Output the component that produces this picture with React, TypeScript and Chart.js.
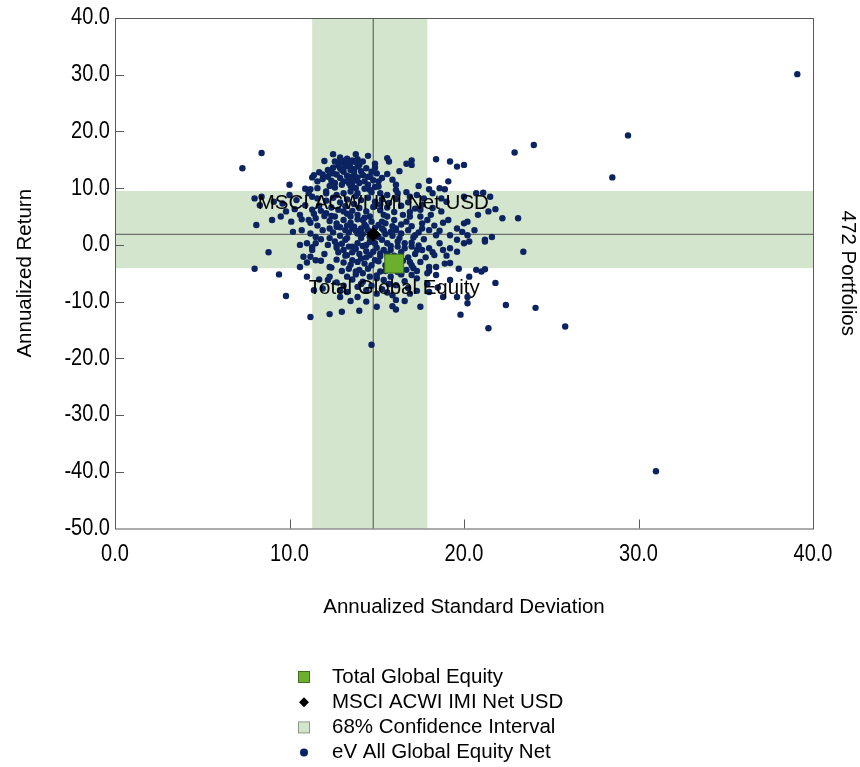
import React, { useEffect, useRef } from 'react';
import { Chart, registerables } from 'chart.js';

Chart.register(...registerables);

// ---------- data ----------
const X_RANGE = [0, 40];
const Y_RANGE = [-50, 40];
const TICK_STEP = 10;

const X_TITLE = 'Annualized Standard Deviation';
const Y_TITLE = 'Annualized Return';
const RIGHT_TITLE = '472 Portfolios';

const FUND_NAME = 'Total Global Equity';
const BENCH_NAME = 'MSCI ACWI IMI Net USD';
const CI_NAME = '68% Confidence Interval';
const PEER_NAME = 'eV All Global Equity Net';

// [std dev, return]
const totalGlobalEquity = [16.0, -3.3];
const benchmark = [14.8, 1.85];
const ciStdDev = [11.3, 17.9];
const ciReturn = [-4.1, 9.5];

const peerUniverse: [number, number][] = [
  [8.4,16.2],[7.3,13.5],[12.5,16.0],[12.9,15.4],[13.8,16.0],[14.5,15.7],[15.6,15.3],[15.7,14.7],[14.9,14.3],[16.7,14.3],
  [17.0,14.9],[17.0,14.1],[18.4,15.1],[19.2,14.7],[19.6,13.8],[20.0,14.1],[22.9,16.3],[24.0,17.6],[12.6,14.7],[13.1,14.5],
  [13.4,14.1],[13.6,14.9],[13.9,15.1],[13.9,13.8],[13.5,13.2],[12.9,13.5],[12.5,12.6],[12.2,12.0],[11.4,12.3],[11.7,12.8],
  [11.9,11.6],[11.3,11.9],[14.2,12.3],[14.6,12.0],[14.3,11.2],[13.8,11.4],[13.6,12.0],[13.1,11.2],[12.6,10.9],[12.3,10.4],
  [13.4,10.9],[13.6,10.3],[15.1,11.2],[15.1,10.3],[16.1,10.6],[16.1,9.7],[18.0,11.3],[18.6,10.0],[19.1,11.2],[18.9,9.8],
  [18.0,9.8],[10.0,10.6],[11.2,9.8],[11.6,11.2],
  [8.4,8.5],[8.0,8.2],[8.3,7.0],[9.1,7.6],[9.6,7.3],[10.4,7.9],[11.1,9.1],[11.3,8.5],[11.6,8.2],[12.1,9.1],
  [12.7,8.8],[13.1,9.1],[13.5,9.4],[13.9,9.1],[14.6,9.7],[15.2,9.1],[15.6,8.8],[16.2,9.1],[16.9,8.5],[17.3,8.8],
  [17.7,8.2],[18.2,9.1],[18.7,8.2],[19.0,7.6],[20.0,8.5],[20.7,9.1],[21.1,9.2],[21.5,8.5],[21.8,6.3],[22.2,4.7],[23.1,4.7],
  [8.1,3.5],[9.0,4.4],[9.5,5.0],[10.1,4.1],[10.6,5.3],[11.1,4.4],[11.5,4.7],[12.1,5.6],[12.6,5.0],[13.1,5.9],
  [13.5,5.0],[13.9,5.3],[14.2,4.4],[14.6,5.0],[15.3,4.1],[15.6,5.0],[16.0,4.4],[16.5,5.3],[16.9,5.0],[17.5,5.0],
  [17.9,4.4],[18.1,5.3],[19.1,4.4],[20.0,3.8],[20.2,4.1],[20.8,5.3],[21.4,5.9],
  [10.2,2.3],[10.7,2.6],[11.2,2.0],[11.5,1.4],[11.9,2.6],[12.3,2.9],[12.7,3.2],[13.2,2.6],[13.6,2.9],[14.1,2.6],
  [14.4,3.2],[15.4,2.6],[15.8,2.3],[16.1,2.9],[16.4,2.0],[16.8,2.6],[17.2,1.7],[17.6,2.9],[18.0,2.6],[18.6,2.5],
  [19.2,1.7],[19.6,2.9],[19.9,2.3],[20.2,1.7],[20.6,2.6],[21.2,0.9],[21.6,1.4],
  [8.8,-1.3],[8.0,-4.2],[9.4,-5.2],[10.6,0.0],[10.8,-2.1],[11.3,-0.9],[11.0,0.3],[11.5,0.3],[12.2,0.0],[12.7,0.0],
  [12.3,1.2],[13.2,0.9],[13.1,-0.9],[13.6,-0.3],[13.9,0.3],[14.1,1.2],[14.4,0.0],[14.9,0.3],[15.3,0.9],[15.6,0.3],
  [15.8,-0.9],[16.2,-0.3],[16.6,0.3],[17.0,-0.3],[17.3,-0.9],[17.6,-0.9],[18.0,-0.6],[18.3,-1.8],[18.8,-0.9],[19.2,-0.6],
  [19.6,0.9],[20.0,0.3],[20.3,0.6],[21.2,0.6],[23.4,-1.2],
  [10.6,-3.9],[11.2,-2.1],[11.5,-2.7],[12.3,-3.9],[13.3,-1.8],[13.6,-2.7],[14.1,-2.4],[14.6,-1.8],[14.9,-2.7],[15.2,-1.5],
  [17.0,-3.6],[17.5,-3.0],[18.0,-3.9],[18.4,-3.9],[18.9,-3.3],[19.2,-3.2],[19.7,-4.2],[20.7,-4.4],[21.2,-4.3],
  [13.3,-5.6],[13.8,-4.7],[14.2,-5.0],[14.6,-5.6],[15.2,-4.7],[15.0,-5.9],[16.4,-5.0],[17.0,-5.3],[17.9,-5.0],[18.4,-5.3],
  [19.2,-6.2],[20.3,-5.6],[21.0,-4.7],[21.8,-6.7],
  [9.8,-9.0],[11.4,-8.0],[11.9,-7.7],[12.9,-9.2],[13.3,-8.3],[13.9,-9.2],[14.4,-10.0],[15.0,-8.6],[15.9,-8.9],[16.1,-9.7],
  [16.9,-8.6],[17.5,-10.9],[18.0,-8.3],[18.8,-9.2],[19.6,-9.2],[20.2,-9.2],[20.2,-10.3],[22.4,-10.6],[24.1,-11.1],
  [11.2,-12.7],[12.3,-12.2],[13.0,-11.8],[14.0,-11.6],[15.0,-10.9],[15.9,-10.8],[16.1,-11.4],[19.8,-12.3],[21.4,-14.7],[14.7,-17.6],
  [29.4,19.3],[28.5,11.9],[25.8,-14.4],[31.0,-39.9],[39.1,30.1],
  [12.8,14.0],[13.2,13.8],[13.5,14.4],[13.8,14.6],[14.0,14.1],[13.6,13.4],[13.1,12.9],[12.7,12.4],[13.3,12.2],[13.7,12.6],
  [14.1,13.0],[14.4,13.5],[14.2,12.3],[13.9,11.9],[13.4,11.6],[12.9,11.8],[12.4,11.3],[13.0,10.6],[13.5,10.4],[14.0,10.9],
  [14.5,10.6],[14.8,11.4],[15.0,12.6],[14.7,12.9],[12.2,13.2],[11.9,12.4],[12.6,10.1],[13.8,10.0],[14.3,9.9],[13.2,14.9],
  [12.5,13.6],[14.9,13.6],[15.3,11.8],[15.6,12.5],
  [12.1,7.8],[12.5,8.3],[12.9,7.5],[13.3,8.0],[13.7,7.2],[14.1,7.9],[14.5,8.3],[14.9,7.6],[15.3,8.0],[15.7,7.4],
  [16.1,8.1],[12.4,6.6],[12.8,6.2],[13.2,6.8],[13.6,6.0],[14.0,6.5],[14.4,5.9],[14.8,6.7],[15.2,6.1],[15.6,6.6],
  [16.0,5.8],[16.4,6.9],[11.7,6.9],[11.3,6.2],[10.9,7.0],[16.8,7.5],[17.2,6.4],[17.6,7.1],[10.3,6.3],[9.8,5.9],
  [12.3,4.2],[12.7,3.8],[13.1,4.4],[13.5,3.9],[13.9,4.5],[14.3,3.6],[14.7,4.1],[15.1,3.5],[15.5,3.8],[15.9,3.3],
  [12.9,3.1],[13.3,3.4],[13.7,3.2],[14.1,2.9],[14.5,2.6],[14.9,3.0],[15.3,2.9],[13.4,2.2],[13.8,2.5],[14.2,1.9],
  [12.5,2.2],[12.9,1.6],[15.1,1.4],[15.5,1.9],[15.9,1.6],[16.4,3.6],[16.7,4.1],[17.0,3.3],[11.6,3.4],[11.2,3.9],
  [10.7,4.5],[16.3,1.2],[17.1,1.3],[17.6,3.8],[18.3,3.4],[18.8,3.9],
  [12.6,0.6],[13.0,0.2],[13.4,-0.3],[13.8,-0.7],[14.2,-0.2],[14.6,0.5],[15.0,-0.5],[15.4,-0.9],[15.8,-0.2],[16.2,0.6],
  [16.6,-0.6],[17.0,0.4],[12.8,-1.3],[13.2,-1.9],[13.6,-1.3],[14.0,-1.6],[14.4,-1.1],[14.8,-1.2],[15.2,-2.0],[15.6,-1.6],
  [16.0,-1.9],[16.4,-1.3],[16.8,-2.2],[17.2,-1.6],[12.7,-2.6],[13.1,-3.1],[13.5,-3.5],[13.9,-3.0],[14.3,-3.3],[14.7,-3.6],
  [15.1,-2.9],[15.5,-3.6],[16.5,-2.8],[16.9,-3.0],[17.8,-2.2],[18.2,-1.3],[12.0,-1.6],[11.8,-2.8],[11.0,-3.1],[18.6,0.3],
  [13.0,-4.6],[13.4,-4.2],[14.0,-4.4],[14.5,-4.2],[15.5,-4.6],[15.9,-4.3],[16.2,-4.8],[16.7,-4.4],[17.3,-4.6],[13.6,-6.1],
  [14.2,-6.5],[15.4,-6.2],[15.8,-5.6],[16.6,-6.4],[17.3,-5.9],[12.7,-6.6],[13.1,-7.2],[13.9,-7.4],[14.7,-7.2],[15.3,-7.8],
  [16.1,-7.1],[16.8,-7.6],[17.9,-6.9],[12.3,-5.6],[11.7,-6.1],[18.5,-7.5],
  [11.4,5.5],[11.8,1.0],[11.3,-0.4],[12.0,5.1],[16.9,5.8],[17.5,6.2],[18.2,6.5],[18.7,5.9],[17.7,1.0],[18.4,1.7],
  [17.4,-0.1],[19.0,-1.9],[19.6,-1.2],[17.1,-4.1],[18.0,-4.6],
  [13.3,15.2],[13.9,14.9],[12.9,14.6],[14.2,14.7],[13.0,13.2],[13.7,13.1],[14.5,12.0],[12.3,12.8],[13.6,11.0],[14.9,10.2],
  [12.1,9.4],[13.8,8.6],[14.7,9.3],[13.3,5.5],[14.3,4.8],[15.4,5.3],[12.4,5.1],[13.9,2.0],[14.6,1.4],[13.3,1.2],
  [12.7,-0.5],[14.4,-2.2],[15.7,-3.0],[13.8,-5.2],[15.0,-5.4],[16.4,-5.2],[12.9,-8.0],[14.4,-8.0],[15.6,-8.4],[16.3,-2.3],
  [16.1,2.6],[17.4,2.2],[15.2,7.1],[16.7,9.3],[11.6,10.0],[12.0,14.8],
  [12.4,-4.0],[14.1,-6.9],[15.7,-6.9],[13.5,-9.9],[16.6,-9.9],[17.3,-8.1],[12.2,-6.2],[11.0,-5.6],[11.8,6.0],[10.0,8.8],
  [10.9,9.9],[17.4,10.4],[16.3,13.0],[15.9,11.5],
];

// ---------- styles ----------
const FONT = "'Liberation Sans', Arial, sans-serif";
const NAVY = '#0b2361';
const GREEN = '#6ab02c';
const GREEN_EDGE = '#3f6e1c';
const BAND = '#d4e5cd';
const BAND_EDGE = '#8a9a86';
const LINE_GRAY = '#6f6f6f';
const AXIS_GRAY = '#5a5a5a';
const TICK_SIZE = 23;
const TICK_SQUEEZE = 0.87;

const fmt = (v: number) => (Math.abs(v) < 1e-9 ? 0 : v).toFixed(1);

function squeezedText(ctx: any, text: string, x: number, y: number, align: string) {
  ctx.save();
  ctx.translate(x, y);
  ctx.scale(TICK_SQUEEZE, 1);
  ctx.textAlign = align;
  ctx.textBaseline = 'middle';
  ctx.fillText(text, 0, 0);
  ctx.restore();
}

const overlayPlugin = {
  id: 'overlay',
  beforeDatasetsDraw(chart: any) {
    const { ctx, chartArea: a, scales } = chart;
    const x = scales.x, y = scales.y;
    ctx.save();
    ctx.fillStyle = BAND;
    const bx0 = x.getPixelForValue(ciStdDev[0]);
    const bx1 = x.getPixelForValue(ciStdDev[1]);
    const by0 = y.getPixelForValue(ciReturn[1]);
    const by1 = y.getPixelForValue(ciReturn[0]);
    ctx.fillRect(bx0, a.top, bx1 - bx0, a.bottom - a.top);
    ctx.fillRect(a.left, by0, a.right - a.left, by1 - by0);
    const cx = x.getPixelForValue(benchmark[0]);
    const cy = y.getPixelForValue(benchmark[1]);
    ctx.strokeStyle = LINE_GRAY;
    ctx.lineWidth = 1.3;
    ctx.beginPath();
    ctx.moveTo(cx, a.top); ctx.lineTo(cx, a.bottom);
    ctx.moveTo(a.left, cy); ctx.lineTo(a.right, cy);
    ctx.stroke();
    ctx.strokeStyle = AXIS_GRAY;
    ctx.lineWidth = 1;
    ctx.beginPath();
    x.ticks.forEach((t: any) => {
      if (t.value <= X_RANGE[0] || t.value >= X_RANGE[1]) return;
      const px = Math.round(x.getPixelForValue(t.value)) + 0.5;
      ctx.moveTo(px, a.bottom); ctx.lineTo(px, a.bottom - 9);
    });
    y.ticks.forEach((t: any) => {
      if (t.value <= Y_RANGE[0] || t.value >= Y_RANGE[1]) return;
      const py = Math.round(y.getPixelForValue(t.value)) + 0.5;
      ctx.moveTo(a.left, py); ctx.lineTo(a.left + 9, py);
    });
    ctx.stroke();
    ctx.strokeRect(a.left + 0.5, a.top + 0.5, a.right - a.left, a.bottom - a.top);
    ctx.restore();
  },
  afterDatasetsDraw(chart: any) {
    const { ctx, scales } = chart;
    const x = scales.x, y = scales.y;
    ctx.save();
    ctx.fillStyle = '#000';
    ctx.font = `20.5px ${FONT}`;
    ctx.textAlign = 'center';
    ctx.textBaseline = 'middle';
    ctx.fillText(BENCH_NAME, x.getPixelForValue(benchmark[0]), y.getPixelForValue(benchmark[1]) - 31);
    ctx.fillText(FUND_NAME, x.getPixelForValue(totalGlobalEquity[0]), y.getPixelForValue(totalGlobalEquity[1]) + 25);
    ctx.restore();
  },
  afterDraw(chart: any) {
    const { ctx, chartArea: a, scales } = chart;
    const x = scales.x, y = scales.y;
    const midX = (a.left + a.right) / 2;
    const midY = (a.top + a.bottom) / 2;
    ctx.save();
    ctx.fillStyle = '#000';

    // tick labels (from the library's scales)
    ctx.font = `${TICK_SIZE}px ${FONT}`;
    x.ticks.forEach((t: any) => squeezedText(ctx, fmt(t.value), x.getPixelForValue(t.value), a.bottom + 26, 'center'));
    y.ticks.forEach((t: any) => squeezedText(ctx, fmt(t.value), a.left - 5, y.getPixelForValue(t.value), 'right'));

    ctx.font = `20.5px ${FONT}`;
    ctx.textAlign = 'center';
    ctx.textBaseline = 'middle';
    ctx.fillText(X_TITLE, midX, 607);
    ctx.save();
    ctx.translate(25, midY);
    ctx.rotate(-Math.PI / 2);
    ctx.fillText(Y_TITLE, 0, 0);
    ctx.restore();
    ctx.save();
    ctx.translate(848, midY);
    ctx.rotate(Math.PI / 2);
    ctx.fillText(RIGHT_TITLE, 0, 0);
    ctx.restore();

    const labels = [FUND_NAME, BENCH_NAME, CI_NAME, PEER_NAME];
    const mx = 304, tx = 332, y0 = 677, step = 25.2;
    ctx.textAlign = 'left';
    labels.forEach((lab, i) => {
      const cy = y0 + i * step;
      if (i === 0) {
        ctx.fillStyle = GREEN; ctx.fillRect(mx - 5.5, cy - 5.5, 11, 11);
        ctx.strokeStyle = GREEN_EDGE; ctx.lineWidth = 1; ctx.strokeRect(mx - 5.5, cy - 5.5, 11, 11);
      } else if (i === 1) {
        ctx.fillStyle = '#000';
        ctx.beginPath();
        ctx.moveTo(mx, cy - 5); ctx.lineTo(mx + 5, cy); ctx.lineTo(mx, cy + 5); ctx.lineTo(mx - 5, cy);
        ctx.closePath(); ctx.fill();
      } else if (i === 2) {
        ctx.fillStyle = BAND; ctx.fillRect(mx - 5.5, cy - 5.5, 11, 11);
        ctx.strokeStyle = BAND_EDGE; ctx.lineWidth = 1; ctx.strokeRect(mx - 5.5, cy - 5.5, 11, 11);
      } else {
        ctx.fillStyle = NAVY;
        ctx.beginPath(); ctx.arc(mx, cy, 4, 0, Math.PI * 2); ctx.fill();
      }
      ctx.fillStyle = '#000';
      ctx.fillText(lab, tx, cy);
    });
    ctx.restore();
  },
};

export default function App() {
  const ref = useRef<HTMLCanvasElement | null>(null);
  useEffect(() => {
    if (!ref.current) return;
    const chart = new Chart(ref.current, {
      type: 'scatter',
      data: {
        datasets: [
          {
            label: PEER_NAME,
            data: peerUniverse.map(([sx, sy]) => ({ x: sx, y: sy })),
            backgroundColor: NAVY,
            borderColor: NAVY,
            borderWidth: 0,
            pointRadius: 3.2,
            order: 3,
          },
          {
            label: BENCH_NAME,
            data: [{ x: benchmark[0], y: benchmark[1] }],
            pointStyle: 'rectRot',
            backgroundColor: '#000',
            borderColor: '#000',
            borderWidth: 1,
            pointRadius: 7,
            order: 2,
          },
          {
            label: FUND_NAME,
            data: [{ x: totalGlobalEquity[0], y: totalGlobalEquity[1] }],
            pointStyle: 'rect',
            backgroundColor: GREEN,
            borderColor: GREEN_EDGE,
            borderWidth: 1,
            pointRadius: 13.4,
            order: 1,
          },
        ],
      },
      options: {
        responsive: false,
        animation: false,
        events: [],
        layout: { padding: { left: 0, right: 47, top: 18, bottom: 178.5 } },
        plugins: { legend: { display: false }, tooltip: { enabled: false } },
        scales: {
          x: {
            type: 'linear',
            min: X_RANGE[0],
            max: X_RANGE[1],
            grid: { display: false, drawTicks: false },
            border: { display: false },
            ticks: { stepSize: TICK_STEP, display: false },
            afterFit: (s: any) => { s.height = 60; },
          },
          y: {
            type: 'linear',
            min: Y_RANGE[0],
            max: Y_RANGE[1],
            grid: { display: false, drawTicks: false },
            border: { display: false },
            ticks: { stepSize: TICK_STEP, display: false },
            afterFit: (s: any) => { s.width = 115; },
          },
        },
      },
      plugins: [overlayPlugin],
    });
    return () => chart.destroy();
  }, []);
  return (
    <div style={{ position: 'absolute', left: 0, top: 0, width: 860, height: 767, background: '#fff' }}>
      <canvas ref={ref} width={860} height={767} style={{ display: 'block' }} />
    </div>
  );
}
